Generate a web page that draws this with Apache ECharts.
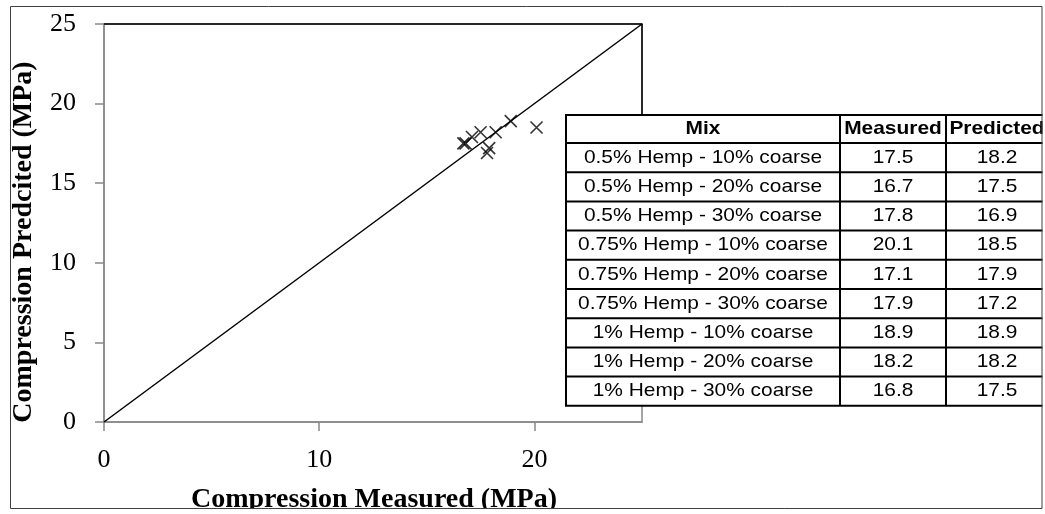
<!DOCTYPE html>
<html>
<head>
<meta charset="utf-8">
<script src="https://cdn.jsdelivr.net/npm/echarts@6/dist/echarts.min.js"></script>
<style>html,body{margin:0;padding:0;background:#fff}#c{width:1045px;height:514px}</style>
</head>
<body>
<div id="c"></div>
<script>
const mixes = ['0.5% Hemp - 10% coarse','0.5% Hemp - 20% coarse','0.5% Hemp - 30% coarse','0.75% Hemp - 10% coarse','0.75% Hemp - 20% coarse','0.75% Hemp - 30% coarse','1% Hemp - 10% coarse','1% Hemp - 20% coarse','1% Hemp - 30% coarse'];
const measured = [17.5,16.7,17.8,20.1,17.1,17.9,18.9,18.2,16.8];
const predicted = [18.2,17.5,16.9,18.5,17.9,17.2,18.9,18.2,17.5];
const tableHeaders = ['Mix','Measured','Predicted'];
const xTicks = [0,10,20];
const yTicks = [0,5,10,15,20,25];
const axisMax = 25;
const xTitle = 'Compression Measured (MPa)';
const yTitle = 'Compression Predcited (MPa)';

const chart = echarts.init(document.getElementById('c'));

// table graphic
const colEdges = [566, 840, 946, 1052];
const tTop = 115, headH = 28, rowH = 29.2;
const tBottom = tTop + headH + rowH * mixes.length;
const g = [];
g.push({type:'rect', z:100, shape:{x:colEdges[0], y:tTop, width:colEdges[3]-colEdges[0], height:tBottom-tTop}, style:{fill:'#fff', stroke:'#000', lineWidth:2}});
for (let i = 0; i < mixes.length; i++) {
  const y = tTop + headH + rowH * i;
  g.push({type:'line', z:101, shape:{x1:colEdges[0], y1:y, x2:colEdges[3], y2:y}, style:{stroke:'#000', lineWidth:2}});
}
[colEdges[1], colEdges[2]].forEach(x => g.push({type:'line', z:101, shape:{x1:x, y1:tTop, x2:x, y2:tBottom}, style:{stroke:'#000', lineWidth:2}}));
const centers = [703, 893, 997];
tableHeaders.forEach((h, j) => g.push({type:'text', z:102, x:centers[j], y:tTop + headH/2, scaleX:1.1, style:{text:h, x:0, y:0, align:'center', verticalAlign:'middle', font:'bold 19px "Liberation Sans", Arial', fill:'#000'}}));
mixes.forEach((m, i) => {
  const cy = tTop + headH + rowH * i + rowH/2;
  const vals = [m, measured[i].toFixed(1), predicted[i].toFixed(1)];
  vals.forEach((v, j) => g.push({type:'text', z:102, x:centers[j], y:cy, scaleX:1.1, style:{text:v, x:0, y:0, align:'center', verticalAlign:'middle', font:'19px "Liberation Sans", Arial', fill:'#000'}}));
});
// axis titles
g.push({type:'text', z:90, x:24, y:242, rotation:Math.PI/2, style:{text:yTitle, x:0, y:0, align:'center', verticalAlign:'middle', font:'bold 28px "Liberation Serif", serif', fill:'#000'}});
g.push({type:'text', z:90, x:374, y:500, style:{text:xTitle, x:0, y:0, align:'center', verticalAlign:'middle', font:'bold 28px "Liberation Serif", serif', fill:'#000'}});
// clipping masks and outer border
g.push({type:'rect', z:110, shape:{x:1042.5, y:0, width:10, height:514}, style:{fill:'#fff'}});
g.push({type:'rect', z:110, shape:{x:0, y:508.5, width:1045, height:10}, style:{fill:'#fff'}});
g.push({type:'rect', z:111, shape:{x:10.5, y:6.5, width:1031.5, height:502}, style:{fill:'none', stroke:'#404040', lineWidth:1}});

const option = {
  animation: false,
  backgroundColor: '#fff',
  grid: {left:104, top:24, right:403, bottom:92, show:true, borderColor:'#888', borderWidth:1.5, backgroundColor:'transparent'},
  xAxis: {
    type:'value', min:0, max:axisMax, interval:10,
    axisLine:{show:true, onZero:false, lineStyle:{color:'#888', width:1.5}},
    axisTick:{show:true, length:9, customValues:xTicks, lineStyle:{color:'#888', width:1.5}},
    axisLabel:{customValues:xTicks, margin:25, fontSize:26, fontFamily:'"Liberation Serif", serif', color:'#000'},
    splitLine:{show:false}
  },
  yAxis: {
    type:'value', min:0, max:axisMax, interval:5,
    axisLine:{show:true, onZero:false, lineStyle:{color:'#888', width:1.5}},
    axisTick:{show:true, length:9, customValues:yTicks, lineStyle:{color:'#888', width:1.5}},
    axisLabel:{customValues:yTicks, margin:28, fontSize:26, fontFamily:'"Liberation Serif", serif', color:'#000'},
    splitLine:{show:false}
  },
  series: [
    {type:'line', name:'frame', silent:true, clip:false, symbol:'none', data:[[0,axisMax],[axisMax,axisMax],[axisMax,10]], lineStyle:{color:'#000', width:1.5}},
    {type:'line', name:'1:1', silent:true, clip:false, symbol:'none', data:[[0,0],[axisMax,axisMax]], lineStyle:{color:'#000', width:1.5}},
    {type:'scatter', name:'data', symbol:'path://M0,0L10,10M10,0L0,10', symbolSize:12,
      itemStyle:{color:'transparent', borderColor:'#000', borderWidth:1.6},
      data: measured.map((m, i) => [m, predicted[i]])}
  ],
  graphic: g
};
chart.setOption(option);
</script>
</body>
</html>
